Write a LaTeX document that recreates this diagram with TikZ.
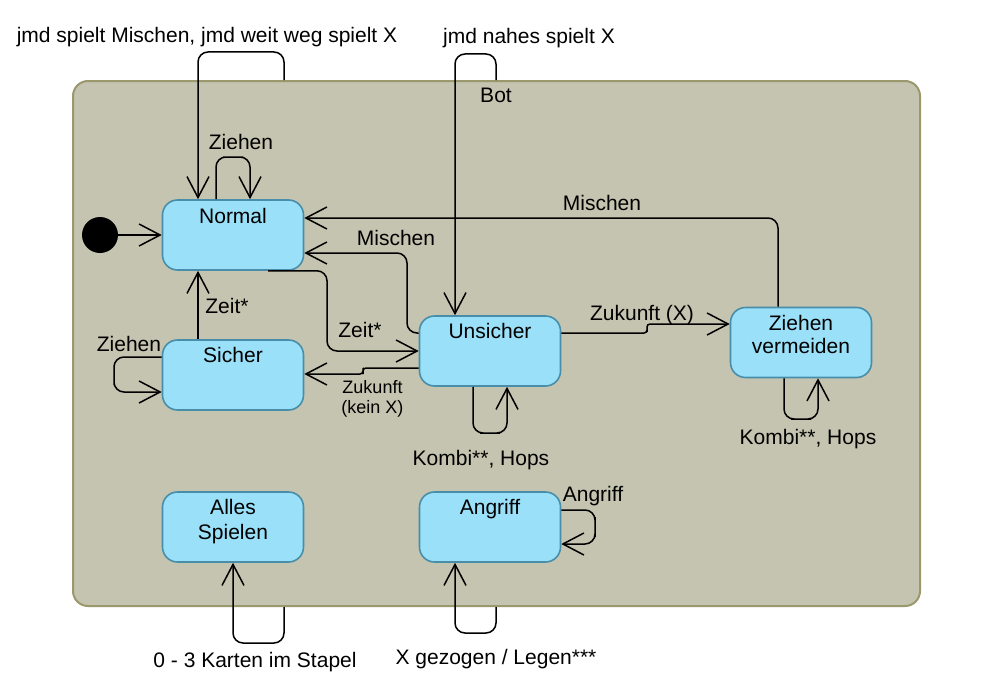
\documentclass[tikz,border=0pt]{standalone}
\usepackage{fontspec}
\setmainfont{Liberation Sans}
\usetikzlibrary{arrows.meta}
\definecolor{contf}{RGB}{196,196,176}
\definecolor{contb}{RGB}{155,152,110}
\definecolor{boxf}{RGB}{153,224,248}
\definecolor{boxb}{RGB}{72,142,170}
\begin{document}
\begin{tikzpicture}[x=1pt,y=-1pt,
  stbox/.style={draw=boxb, fill=boxf, line width=1.6pt, rounded corners=15pt, minimum width=141pt, minimum height=70pt, inner sep=0pt},
  lbl/.style={font=\fontsize{21}{24}\selectfont, inner sep=0pt, anchor=base},
  slbl/.style={font=\fontsize{18}{20}\selectfont, inner sep=0pt, anchor=base},
  conn/.style={draw, line width=1.5pt, rounded corners=10pt},
  arr/.style={conn, -{Straight Barb[length=21pt,width=22pt]}},
]
\useasboundingbox (0,0) rectangle (998,693);
% container
\node[draw=contb, fill=contf, line width=2pt, rounded corners=15pt, minimum width=847pt, minimum height=525pt, anchor=north west, inner sep=0pt] (cont) at (72,80) {};
% states
\node[stbox] (normal) at (233,235) {};
\node[stbox] (sicher) at (233,375) {};
\node[stbox] (unsicher) at (490,351) {};
\node[stbox] (zv) at (801,342.5) {};
\node[stbox] (alles) at (233,527) {};
\node[stbox] (angriff) at (490,527) {};
\node[circle, fill=black, minimum size=36pt, inner sep=0pt] (init) at (100,235) {};
% state texts
\node[lbl] (normal-t) at (233,223) {Normal};
\node[lbl] (sicher-t) at (233,362) {Sicher};
\node[lbl] (unsicher-t) at (490,338) {Unsicher};
\node[lbl] (zv-t1) at (801,330) {Ziehen};
\node[lbl] (zv-t2) at (801,353) {vermeiden};
\node[lbl] (alles-t1) at (233,514) {Alles};
\node[lbl] (alles-t2) at (233,539) {Spielen};
\node[lbl] (angriff-t) at (490,514) {Angriff};
% connectors
\draw[arr] (init) -- (normal.west |- init);
\draw[arr] (normal.north -| 216,0) |- (233,157) -| (normal.north -| 250,0);
\draw[arr] (cont.north -| 284,0) |- (240,52) -| (normal.north -| 198,0);
\draw[arr] (cont.north -| 496,0) |- (475,54) -| (unsicher.north -| 455,0);
\draw[arr] (zv.north -| 778,0) |- (normal.east |- 0,218);
\draw[arr] (unsicher.west |- 0,333) -| (407,290) |- (normal.east |- 0,253);
\draw[arr] (normal.south -| 268,0) -| (327,310) |- (unsicher.west |- 0,351);
\draw[arr] (sicher.north -| 198,0) -- (normal.south -| 198,0);
\draw[arr] (sicher.west |- 0,357) -| (114,375) |- (sicher.west |- 0,392);
\draw[arr, rounded corners=3pt] (unsicher.west |- 0,368) -| (363,371) |- (sicher.east |- 0,374);
\draw[arr] (unsicher.south -| 473,0) |- (490,433) -| (unsicher.south -| 507,0);
\draw[arr, rounded corners=3pt] (unsicher.east |- 0,333) -| (647,329) |- (zv.west |- 0,324);
\draw[arr] (zv.south -| 784,0) |- (801,419) -| (zv.south -| 818,0);
\draw[arr] (angriff.east |- 0,510) -| (595,527) |- (angriff.east |- 0,544);
\draw[arr] (cont.south -| 284,0) |- (260,643) -| (alles.south -| 233,0);
\draw[arr] (cont.south -| 496,0) |- (475,633) -| (angriff.south -| 455,0);
% labels
\node[lbl] (l-jmdA) at (207,43) {jmd spielt Mischen, jmd weit weg spielt X};
\node[lbl] (l-jmdB) at (529,44) {jmd nahes spielt X};
\node[lbl] (l-bot) at (496,102) {Bot};
\node[lbl] (l-ziehen1) at (241,149) {Ziehen};
\node[lbl] (l-misch1) at (602,210) {Mischen};
\node[lbl] (l-misch2) at (396,245) {Mischen};
\node[lbl] (l-zeit1) at (227,313) {Zeit*};
\node[lbl] (l-zeit2) at (360,337) {Zeit*};
\node[lbl] (l-ziehen2) at (129,351) {Ziehen};
\node[slbl] (l-zuk1) at (372.5,393) {Zukunft};
\node[slbl] (l-zuk2) at (372.5,413) {(kein X)};
\node[lbl] (l-kombi1) at (481,465) {Kombi**, Hops};
\node[lbl] (l-zukX) at (642,320) {Zukunft (X)};
\node[lbl] (l-kombi2) at (808,444) {Kombi**, Hops};
\node[lbl] (l-angr) at (593,501) {Angriff};
\node[lbl] (l-karten) at (255,667) {0 - 3 Karten im Stapel};
\node[lbl] (l-xgez) at (496,664) {X gezogen / Legen***};
\end{tikzpicture}
\end{document}
